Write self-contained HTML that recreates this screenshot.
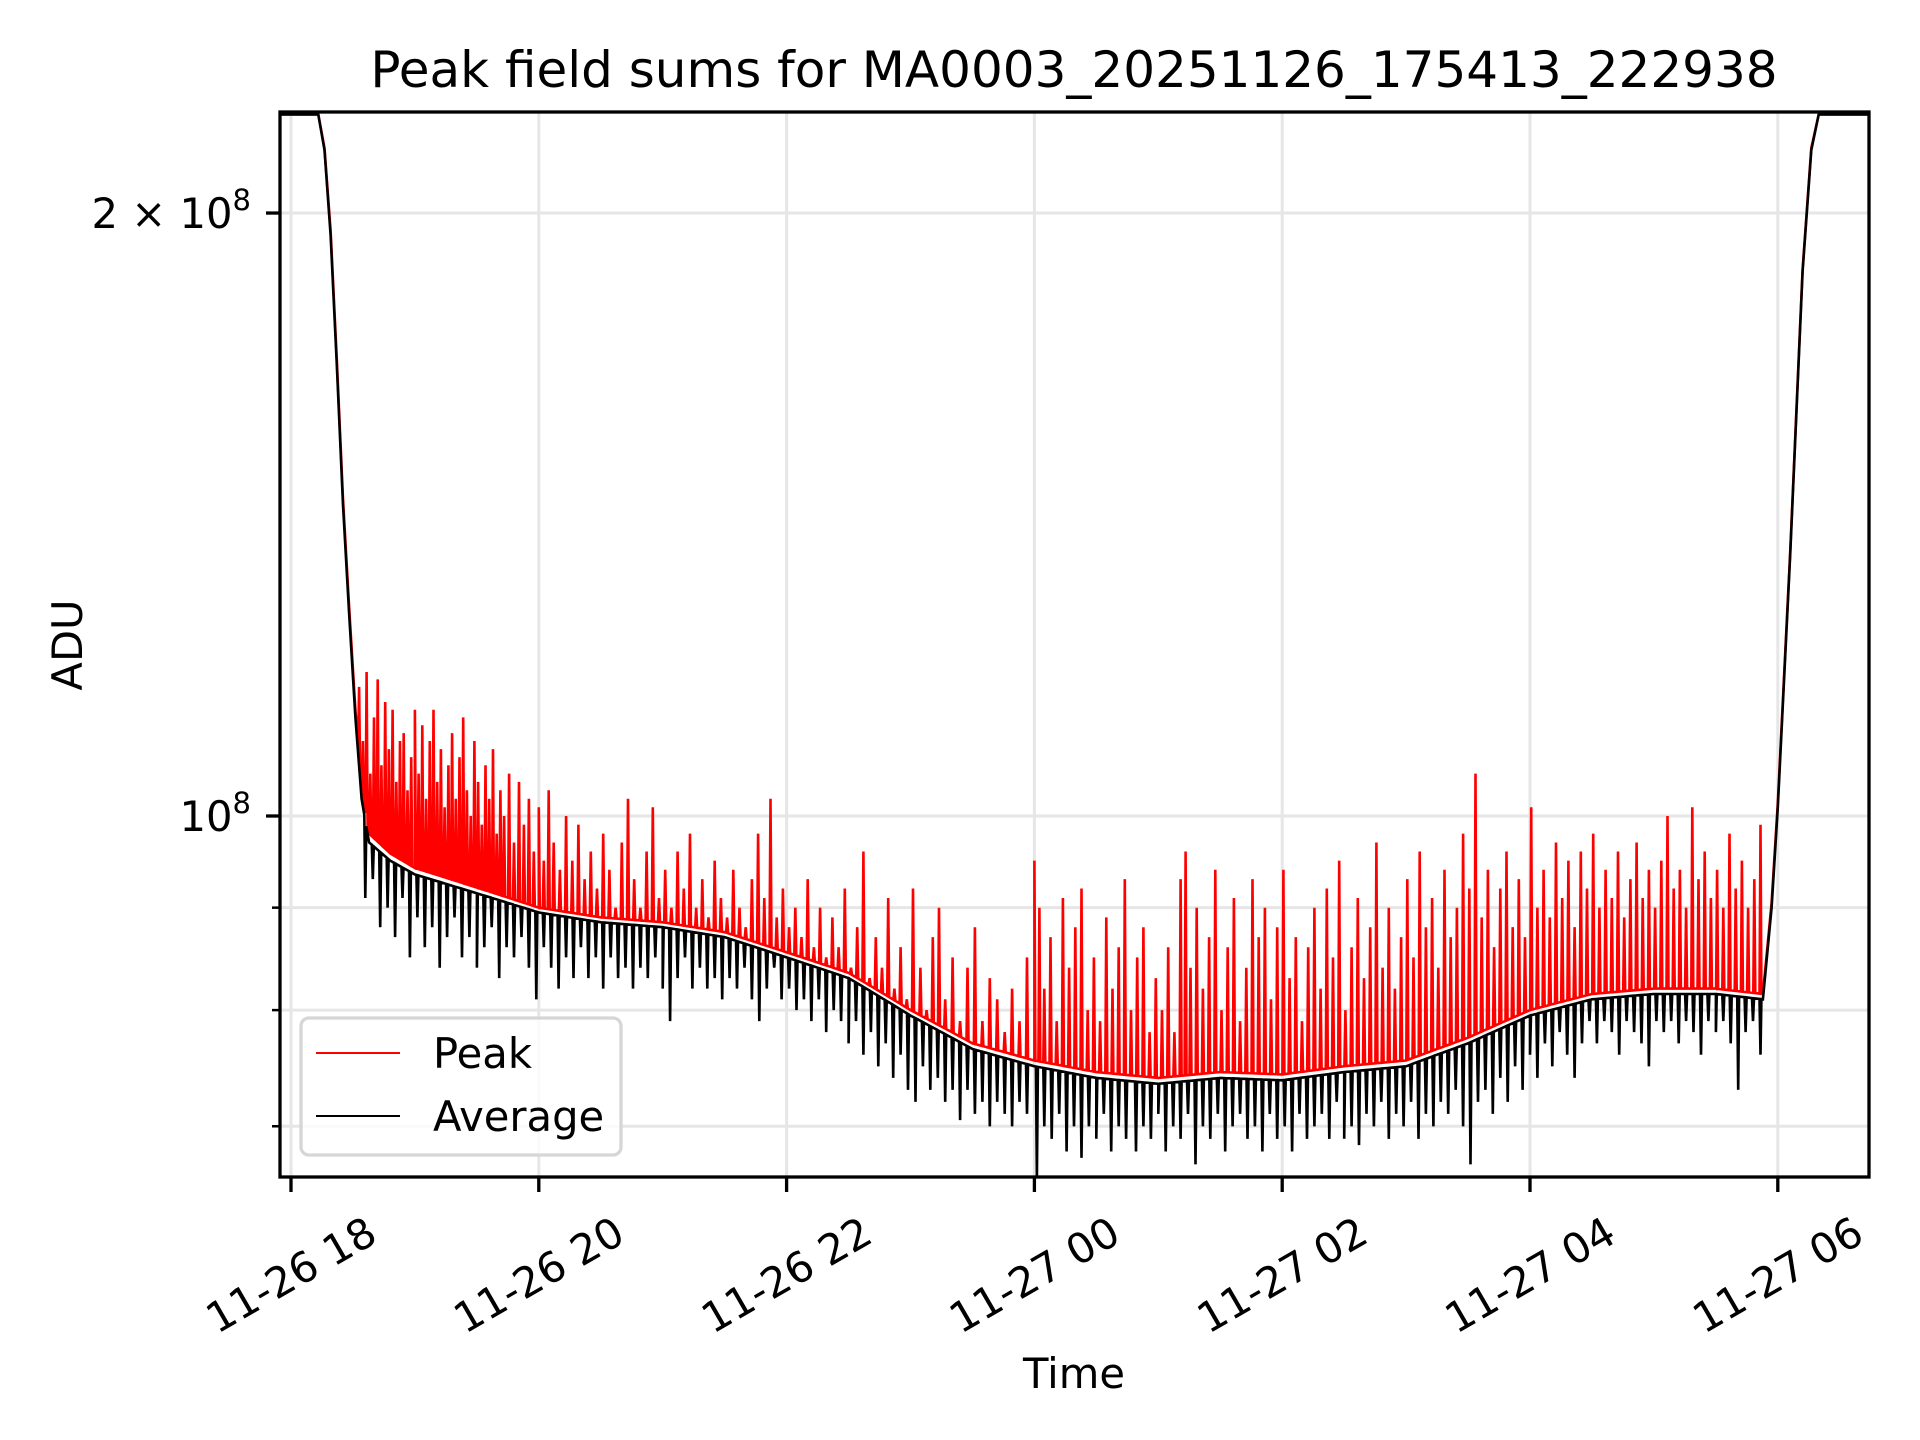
<!DOCTYPE html>
<html><head><meta charset="utf-8"><style>
html,body{margin:0;padding:0;background:#fff;}
svg{display:block;}
text{font-family:"DejaVu Sans","Liberation Sans",sans-serif;fill:#000;}
</style></head><body>
<svg id="chart" width="1920" height="1440" viewBox="0 0 1920 1440" xmlns="http://www.w3.org/2000/svg">
<rect width="1920" height="1440" fill="#fff"/>
<defs><clipPath id="clip"><rect x="280" y="112" width="1589" height="1065"/></clipPath></defs>
<g id="grid"></g>
<g id="series" clip-path="url(#clip)"></g>
<rect x="280" y="112" width="1589" height="1065" fill="none" stroke="#000" stroke-width="3.3"/>
<g id="ticks"></g>
<text x="1074" y="87" font-size="50" text-anchor="middle">Peak field sums for MA0003_20251126_175413_222938</text>
<text x="1074" y="1388" font-size="41.7" text-anchor="middle">Time</text>
<text transform="translate(82,645) rotate(-90)" font-size="41.7" text-anchor="middle">ADU</text>
<g>
<rect x="301" y="1018" width="320" height="137" rx="8" fill="#fff" fill-opacity="0.8" stroke="#d6d6d6" stroke-width="3.3"/>
<line x1="316" y1="1053" x2="400" y2="1053" stroke="#ff0000" stroke-width="2.1"/>
<text x="433" y="1068" font-size="41.7">Peak</text>
<line x1="316" y1="1116" x2="400" y2="1116" stroke="#000" stroke-width="2.1"/>
<text x="433" y="1131" font-size="41.7">Average</text>
</g>
</svg>
<script>
// Time in hours since 11-26 18:00; values in units of 1e7 ADU
const xTickLabels = ["11-26 18","11-26 20","11-26 22","11-27 00","11-27 02","11-27 04","11-27 06"];
const xTickHours = [0,2,4,6,8,10,12];
const yMajorTicks = [10,20];
const yMajorLabels = ["10","2 \u00d7 10"];
const yMinorTicks = [7,8,9];
const baseTimes = [-0.1,0.22,0.27,0.32,0.37,0.42,0.47,0.52,0.57,0.63,0.8,1.0,1.5,2.0,2.5,3.0,3.5,4.0,4.5,5.0,5.5,6.0,6.5,7.0,7.5,8.0,8.5,9.0,9.5,10.0,10.5,11.0,11.5,11.88,11.95,12.0,12.1,12.2,12.27,12.33,12.8];
const avgBase = [22.4,22.4,21.5,19.5,16.8,14.3,12.6,11.2,10.2,9.7,9.5,9.35,9.15,8.95,8.85,8.8,8.7,8.5,8.3,7.95,7.65,7.5,7.4,7.35,7.4,7.38,7.45,7.5,7.7,7.95,8.1,8.15,8.15,8.1,9.0,10.1,13.5,18.7,21.5,22.4,22.4];
const peakBase = [22.4,22.4,21.55,19.6,16.9,14.4,12.7,11.3,10.3,9.8,9.58,9.42,9.21,9.0,8.9,8.85,8.75,8.55,8.35,8.0,7.7,7.55,7.45,7.4,7.45,7.43,7.5,7.55,7.75,8.0,8.15,8.2,8.2,8.15,9.05,10.15,13.55,18.75,21.55,22.4,22.4];
const peakSpikeTimes = [0.55,0.58,0.61,0.64,0.67,0.70,0.73,0.76,0.79,0.82,0.85,0.88,0.91,0.94,0.97,1.00,1.03,1.06,1.09,1.12,1.15,1.18,1.21,1.24,1.27,1.30,1.33,1.36,1.39,1.42,1.45,1.48,1.51,1.54,1.57,1.60,1.63,1.66,1.69,1.72,1.76,1.80,1.84,1.88,1.92,1.96,2.00,2.04,2.08,2.12,2.17,2.22,2.27,2.32,2.37,2.42,2.47,2.52,2.57,2.62,2.67,2.72,2.77,2.82,2.87,2.92,2.97,3.02,3.07,3.12,3.17,3.22,3.27,3.32,3.37,3.42,3.47,3.52,3.57,3.62,3.67,3.72,3.77,3.82,3.87,3.92,3.97,4.02,4.07,4.12,4.17,4.22,4.27,4.32,4.37,4.42,4.47,4.52,4.57,4.62,4.67,4.72,4.77,4.82,4.87,4.92,4.97,5.02,5.08,5.13,5.18,5.23,5.28,5.34,5.40,5.46,5.52,5.58,5.64,5.70,5.76,5.82,5.88,5.94,6.00,6.04,6.08,6.13,6.18,6.23,6.28,6.33,6.38,6.43,6.48,6.53,6.58,6.63,6.68,6.73,6.78,6.83,6.88,6.93,6.98,7.03,7.08,7.13,7.18,7.22,7.26,7.31,7.36,7.41,7.46,7.51,7.56,7.61,7.66,7.71,7.76,7.81,7.86,7.91,7.96,8.01,8.06,8.11,8.16,8.21,8.26,8.31,8.36,8.41,8.46,8.51,8.56,8.61,8.66,8.71,8.76,8.81,8.86,8.91,8.96,9.01,9.06,9.11,9.16,9.21,9.26,9.31,9.36,9.41,9.46,9.51,9.56,9.61,9.66,9.71,9.76,9.81,9.86,9.91,9.96,10.01,10.06,10.11,10.16,10.21,10.26,10.31,10.36,10.41,10.46,10.51,10.56,10.61,10.66,10.71,10.76,10.81,10.86,10.91,10.96,11.01,11.06,11.11,11.16,11.21,11.26,11.31,11.36,11.41,11.46,11.51,11.56,11.61,11.66,11.71,11.76,11.81,11.86];
const peakSpikeValues = [11.6,10.9,11.8,10.5,11.2,11.7,10.6,11.4,10.8,11.3,10.4,10.9,11.0,10.3,10.7,11.3,10.5,11.1,10.2,10.9,11.3,10.4,10.8,10.1,10.6,11.0,10.2,10.7,11.2,10.3,10.0,10.9,10.4,9.9,10.6,10.2,10.8,9.8,10.3,10.0,10.5,9.7,10.4,9.9,10.2,9.6,10.1,9.5,10.3,9.7,9.4,10.0,9.5,9.9,9.3,9.6,9.2,9.8,9.4,9.0,9.7,10.2,9.3,9.0,9.6,10.1,9.1,9.4,9.0,9.6,9.2,9.8,9.0,9.3,8.9,9.5,9.1,8.9,9.4,9.0,8.8,9.3,9.8,9.1,10.2,8.9,9.2,8.8,9.0,8.7,9.3,8.6,9.0,8.5,8.9,8.6,9.2,8.4,8.8,9.6,8.3,8.7,8.4,9.1,8.2,8.6,8.1,9.2,8.4,8.0,8.7,9.0,8.1,8.5,7.9,8.4,8.8,7.9,8.3,8.1,7.8,8.2,7.9,8.5,9.5,9.0,8.2,8.7,7.9,9.1,8.4,8.8,9.2,8.0,8.5,7.9,8.9,8.2,8.6,9.3,8.0,8.5,8.8,7.8,8.3,8.0,8.6,7.8,9.3,9.6,8.4,9.0,8.2,8.7,9.4,8.0,8.6,9.1,7.9,8.4,9.3,8.7,9.0,8.1,8.8,9.4,8.3,8.7,7.9,8.6,9.0,8.2,9.2,8.5,9.5,8.0,8.6,9.1,8.3,8.8,9.7,8.4,9.0,8.2,8.7,9.3,8.5,9.6,8.8,9.1,8.4,9.4,8.7,9.0,9.8,9.2,10.5,8.9,9.4,8.6,9.2,9.6,8.8,9.3,8.7,10.1,9.0,9.4,8.9,9.7,9.1,9.5,8.8,9.6,9.2,9.8,9.0,9.4,9.1,9.6,8.9,9.3,9.7,9.1,9.4,9.0,9.5,10.0,9.2,9.4,9.0,10.1,9.3,9.6,9.1,9.4,9.0,9.8,9.2,9.5,9.0,9.3,9.9];
const avgDipTimes = [0.6,0.66,0.72,0.78,0.84,0.90,0.96,1.02,1.08,1.14,1.20,1.26,1.32,1.38,1.44,1.50,1.56,1.62,1.68,1.74,1.80,1.86,1.92,1.98,2.04,2.10,2.16,2.22,2.28,2.34,2.40,2.46,2.52,2.58,2.64,2.70,2.76,2.82,2.88,2.94,3.00,3.06,3.12,3.18,3.24,3.30,3.36,3.42,3.48,3.54,3.60,3.66,3.72,3.78,3.84,3.90,3.96,4.02,4.08,4.14,4.20,4.26,4.32,4.38,4.44,4.50,4.56,4.62,4.68,4.74,4.80,4.86,4.92,4.98,5.04,5.10,5.16,5.22,5.28,5.34,5.40,5.46,5.52,5.58,5.64,5.70,5.76,5.82,5.88,5.94,6.02,6.08,6.14,6.20,6.26,6.32,6.38,6.44,6.50,6.56,6.62,6.68,6.74,6.82,6.88,6.94,7.00,7.06,7.12,7.18,7.24,7.30,7.36,7.42,7.48,7.54,7.60,7.66,7.72,7.78,7.84,7.90,7.96,8.02,8.08,8.14,8.20,8.26,8.32,8.38,8.44,8.50,8.56,8.62,8.68,8.74,8.80,8.86,8.92,8.98,9.04,9.10,9.16,9.22,9.28,9.34,9.40,9.46,9.52,9.58,9.64,9.70,9.76,9.82,9.88,9.94,10.00,10.06,10.12,10.18,10.24,10.30,10.36,10.42,10.48,10.54,10.60,10.66,10.72,10.78,10.84,10.90,10.96,11.02,11.08,11.14,11.20,11.26,11.32,11.38,11.44,11.50,11.56,11.62,11.68,11.74,11.80,11.86];
const avgDipValues = [9.1,9.3,8.8,9.0,8.7,9.1,8.5,8.9,8.6,8.8,8.4,8.7,8.9,8.5,8.7,8.4,8.6,8.8,8.3,8.6,8.5,8.7,8.4,8.1,8.6,8.4,8.2,8.5,8.3,8.6,8.3,8.5,8.2,8.5,8.3,8.4,8.2,8.4,8.3,8.5,8.2,7.9,8.3,8.5,8.2,8.4,8.2,8.3,8.1,8.3,8.2,8.4,8.1,7.9,8.2,8.4,8.1,8.2,8.0,8.1,7.9,8.1,7.8,8.0,7.9,7.7,7.9,7.6,7.8,7.5,7.7,7.4,7.6,7.3,7.2,7.5,7.3,7.4,7.2,7.3,7.05,7.3,7.1,7.2,7.0,7.2,7.1,7.0,7.2,7.1,6.6,7.0,6.9,7.1,6.8,7.0,6.75,7.0,6.9,7.1,6.8,7.0,6.9,6.8,7.0,6.9,7.1,6.8,7.0,6.9,7.1,6.7,7.0,6.9,7.1,6.8,7.0,7.1,6.9,7.0,6.8,7.1,6.9,7.0,6.8,7.1,6.9,7.0,7.1,6.9,7.2,6.9,7.0,6.85,7.1,7.0,7.2,6.9,7.1,7.0,7.2,6.9,7.1,7.0,7.2,7.1,7.3,7.0,6.7,7.2,7.3,7.1,7.4,7.2,7.5,7.3,7.6,7.4,7.7,7.5,7.8,7.6,7.4,7.7,7.9,7.7,7.9,7.8,7.6,7.9,7.8,7.7,7.5,7.9,7.8,7.9,7.7,7.9,7.8,7.6,7.9,7.8,7.9,7.7,7.3,7.8,7.9,7.6];

const NS = "http://www.w3.org/2000/svg";
const X0 = 291, PXH = 123.9, Y1E8 = 816, PXDEC = 2003;
function xScale(h){ return X0 + PXH*h; }
function yScale(v){ return Y1E8 - PXDEC*Math.log10(v/10); }
function interp(ts, vs, t){
  if (t<=ts[0]) return vs[0];
  for (let i=1;i<ts.length;i++){ if (t<=ts[i]){ const f=(t-ts[i-1])/(ts[i]-ts[i-1]); return vs[i-1]+f*(vs[i]-vs[i-1]); } }
  return vs[vs.length-1];
}
function buildPoints(bt, bv, st, sv){
  const pts = bt.map((t,i)=>[t,bv[i]]);
  st.forEach((t,i)=>{
    pts.push([t-0.008, interp(bt,bv,t-0.008)]);
    pts.push([t, sv[i]]);
    pts.push([t+0.008, interp(bt,bv,t+0.008)]);
  });
  pts.sort((a,b)=>a[0]-b[0]);
  return pts.map(p=>xScale(p[0]).toFixed(1)+","+yScale(p[1]).toFixed(1)).join(" ");
}
const grid = document.getElementById("grid");
const ticks = document.getElementById("ticks");
const series = document.getElementById("series");
function mk(tag, attrs, parent){ const e=document.createElementNS(NS,tag); for (const k in attrs) e.setAttribute(k, attrs[k]); parent.appendChild(e); return e; }

xTickHours.forEach((h,i)=>{
  const x = xScale(h);
  const g = mk("line",{x1:x,y1:112,x2:x,y2:1177,stroke:"#e6e6e6","stroke-width":3},grid);
  
  
  const t = mk("line",{x1:x,y1:1177,x2:x,y2:1192,stroke:"#000","stroke-width":3.3},ticks);
  
  
  const lb = mk("text",{transform:"translate("+x+",1275) rotate(-30)","font-size":41.7,"text-anchor":"middle","dominant-baseline":"central"},ticks);
  lb.textContent = xTickLabels[i];
  
  
});
yMinorTicks.forEach(v=>{
  const y = yScale(v);
  const g = mk("line",{x1:280,y1:y,x2:1869,y2:y,stroke:"#e6e6e6","stroke-width":3},grid);
  
  
  const t = mk("line",{x1:272,y1:y,x2:280,y2:y,stroke:"#000","stroke-width":2.5},ticks);
  
  
});
yMajorTicks.forEach((v,i)=>{
  const y = yScale(v);
  const g = mk("line",{x1:280,y1:y,x2:1869,y2:y,stroke:"#e6e6e6","stroke-width":3},grid);
  
  
  const t = mk("line",{x1:266,y1:y,x2:280,y2:y,stroke:"#000","stroke-width":3.3},ticks);
  
  
  const lb = mk("text",{x:251,y:y+15,"font-size":41.7,"text-anchor":"end"},ticks);
  
  
  lb.appendChild(document.createTextNode(yMajorLabels[i]));
  const sup = document.createElementNS(NS,"tspan");
  sup.setAttribute("dy","-18"); sup.setAttribute("font-size","29");
  sup.textContent = "8";
  lb.appendChild(sup);
});
const peak = mk("polyline",{points:buildPoints(baseTimes,peakBase,peakSpikeTimes,peakSpikeValues),fill:"none",stroke:"#ff0000","stroke-width":2.6,"stroke-linejoin":"miter"},series);


const avg = mk("polyline",{points:buildPoints(baseTimes,avgBase,avgDipTimes,avgDipValues),fill:"none",stroke:"#000","stroke-width":2.6,"stroke-linejoin":"miter"},series);


</script>
</body></html>
